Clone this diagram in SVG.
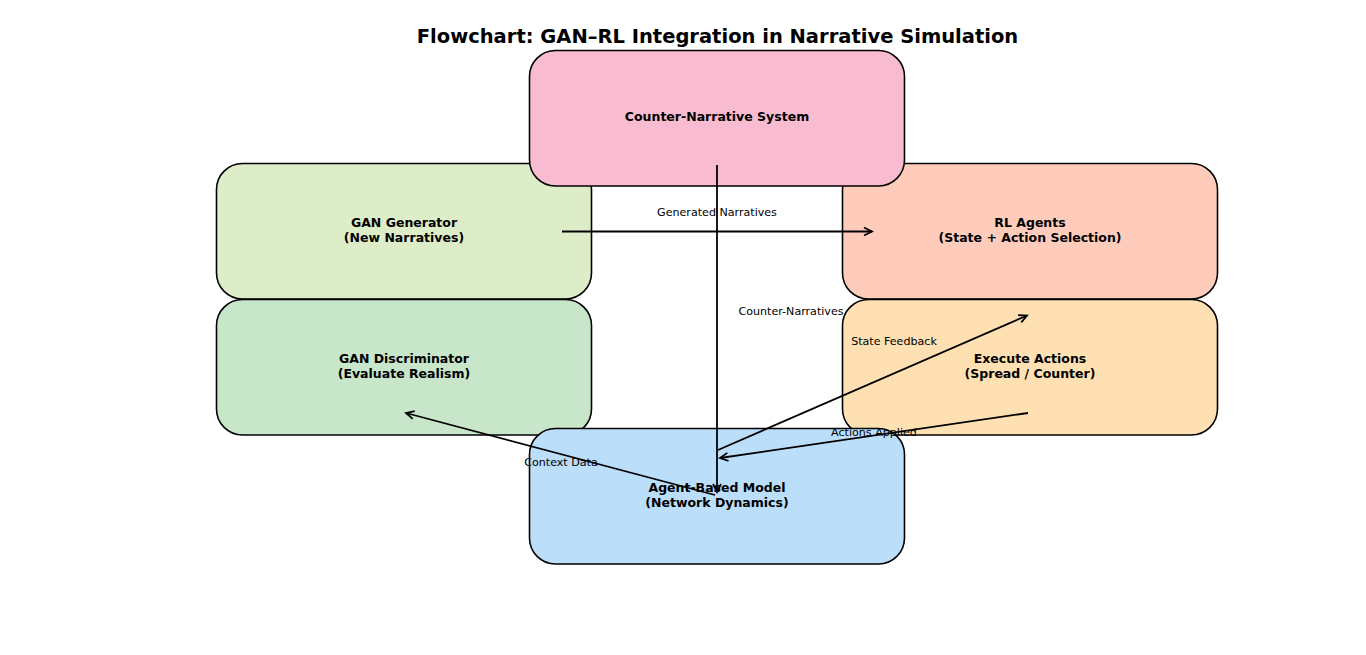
<svg xmlns="http://www.w3.org/2000/svg" width="1366" height="655" viewBox="0 0 1366 655">
<defs>
<style>
.box{stroke:#000;stroke-width:1.6}
.nt{font-family:"DejaVu Sans",sans-serif;font-size:12.5px;font-weight:bold;text-anchor:middle;fill:#000}
.lt{font-family:"DejaVu Sans",sans-serif;font-size:11.1px;text-anchor:middle;fill:#000}
.ed{stroke:#000;stroke-width:1.8;fill:none;marker-end:url(#ah)}
</style>
<marker id="ah" markerUnits="userSpaceOnUse" markerWidth="12" markerHeight="12" viewBox="-10 -6 12 12" refX="0" refY="0" orient="auto">
<path d="M-8,-4 L0,0 L-8,4" fill="none" stroke="#000" stroke-width="1.8"/>
</marker>
</defs>
<rect width="1366" height="655" fill="#fff"/>
<text x="717.5" y="42.5" font-family="DejaVu Sans,sans-serif" font-size="19.5" font-weight="bold" text-anchor="middle">Flowchart: GAN–RL Integration in Narrative Simulation</text>
<g id="gan-generator"><rect class="box" x="216.5" y="163.5" width="375" height="135.5" rx="26" fill="#dcedc8"/><text class="nt" x="404" y="226.5">GAN Generator</text><text class="nt" x="404" y="241.5">(New Narratives)</text></g>
<g id="rl-agents"><rect class="box" x="842.5" y="163.5" width="375" height="135.5" rx="26" fill="#ffccbc"/><text class="nt" x="1030" y="226.5">RL Agents</text><text class="nt" x="1030" y="241.5">(State + Action Selection)</text></g>
<g id="gan-discriminator"><rect class="box" x="216.5" y="299.5" width="375" height="135.5" rx="26" fill="#c8e6c9"/><text class="nt" x="404" y="363">GAN Discriminator</text><text class="nt" x="404" y="378">(Evaluate Realism)</text></g>
<g id="execute-actions"><rect class="box" x="842.5" y="299.5" width="375" height="135.5" rx="26" fill="#ffe0b2"/><text class="nt" x="1030" y="363">Execute Actions</text><text class="nt" x="1030" y="378">(Spread / Counter)</text></g>
<g id="counter-narrative"><rect class="box" x="529.5" y="50.5" width="375" height="135.5" rx="26" fill="#f8bbd0"/><text class="nt" x="717" y="121">Counter-Narrative System</text></g>
<g id="abm"><rect class="box" x="529.5" y="428.5" width="375" height="135.5" rx="26" fill="#bbdefb"/><text class="nt" x="717" y="492">Agent-Based Model</text><text class="nt" x="717" y="507">(Network Dynamics)</text></g>
<g id="connectors">
<line class="ed" x1="562" y1="231.5" x2="872" y2="231.5"/>
<line class="ed" x1="717" y1="165" x2="717" y2="492"/>
<line class="ed" x1="718" y1="450" x2="1027" y2="315.5"/>
<line class="ed" x1="1028" y1="413" x2="720" y2="458"/>
<line class="ed" x1="715" y1="495" x2="406" y2="413"/>
</g>
<g id="labels">
<text class="lt" x="717" y="216">Generated Narratives</text>
<text class="lt" x="791" y="315">Counter-Narratives</text>
<text class="lt" x="894" y="345">State Feedback</text>
<text class="lt" x="874" y="436">Actions Applied</text>
<text class="lt" x="561" y="466">Context Data</text>
</g>
</svg>
